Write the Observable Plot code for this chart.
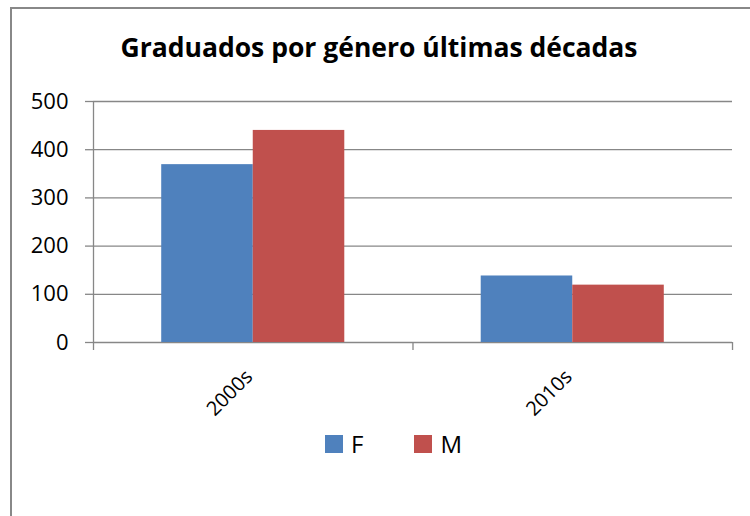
<!DOCTYPE html>
<html>
<head>
<meta charset="utf-8">
<script src="https://cdn.jsdelivr.net/npm/d3@7"></script>
<script src="https://cdn.jsdelivr.net/npm/@observablehq/plot@0.6"></script>
<style>
  html, body { margin: 0; padding: 0; background: #fff; }
  body { width: 750px; height: 516px; position: relative; overflow: hidden; font-family: "Open Sans", sans-serif; }
  #border { position: absolute; left: 10px; top: 7px; width: 800px; height: 600px; border-left: 2px solid #888; border-top: 2px solid #888; }
  #title { position: absolute; left: 0; top: 34px; width: 758px; text-align: center; font-weight: bold; font-size: 26.5px; line-height: 26px; color: #000; }
  #chart { position: absolute; left: 0; top: 0; }
  #legend { position: absolute; left: 325px; top: 429px; display: flex; align-items: center; font-size: 24px; line-height: 30px; color: #000; }
  .item { display: flex; align-items: center; }
  .sw { width: 18px; height: 18px; margin-right: 8px; }
</style>
</head>
<body>
<div id="border"></div>
<div id="title">Graduados por género últimas décadas</div>
<div id="chart"></div>
<div id="legend"></div>
<script>
const decades = ["2000s", "2010s"];
const genders = ["F", "M"];
const valuesF = [369, 138];
const valuesM = [440, 119];
const yTicks = [0, 100, 200, 300, 400, 500];
const colors = ["#4F81BD", "#C0504D"];

const barW = 0.2865; // fraction of a category band per bar
const seriesValues = { F: valuesF, M: valuesM };
const data = decades.flatMap((decade, i) =>
  genders.map((gender, g) => ({ decade, i, gender, g, value: seriesValues[gender][i] }))
);

const gray = "#878787";

const plot = Plot.plot({
  width: 750,
  height: 440,
  marginLeft: 93,
  marginRight: 18,
  marginTop: 101,
  marginBottom: 98,
  style: { fontFamily: "Open Sans, sans-serif", color: "#000", background: "transparent", overflow: "visible" },
  x: { type: "linear", domain: [0, decades.length], axis: null },
  y: { type: "linear", domain: [0, 500], axis: null, label: null },
  color: { domain: genders, range: colors },
  marks: [
    Plot.gridY(yTicks, { stroke: gray, strokeOpacity: 1, strokeWidth: 1.3 }),
    Plot.axisY(yTicks, { tickSize: 8, tickPadding: 17, stroke: gray, strokeWidth: 1.3, fill: "#000", fontSize: 22, label: null }),
    Plot.rectY(data, {
      x1: d => d.i + 0.5 + (d.g - 1) * barW,
      x2: d => d.i + 0.5 + d.g * barW,
      y1: 0,
      y2: "value",
      fill: "gender"
    }),
    Plot.ruleX([0], { stroke: gray, strokeWidth: 1.3 }),
    Plot.axisX(d3.range(decades.length + 1), { tickSize: 8, tickFormat: () => "", stroke: gray, strokeWidth: 1.3, label: null }),
    Plot.axisX(decades.map((d, i) => i + 0.5), {
      tickSize: 0,
      tickRotate: -45,
      tickPadding: 31,
      dx: -4,
      tickFormat: d => decades[Math.floor(d)],
      fontSize: 20,
      fill: "#000",
      label: null
    })
  ]
});
document.getElementById("chart").appendChild(plot);

const legend = document.getElementById("legend");
genders.forEach((g, k) => {
  const item = document.createElement("div");
  item.className = "item";
  if (k > 0) item.style.marginLeft = "51px";
  const sw = document.createElement("div");
  sw.className = "sw";
  sw.style.background = colors[k];
  const label = document.createElement("span");
  label.textContent = g;
  item.appendChild(sw);
  item.appendChild(label);
  legend.appendChild(item);
});
</script>
</body>
</html>
